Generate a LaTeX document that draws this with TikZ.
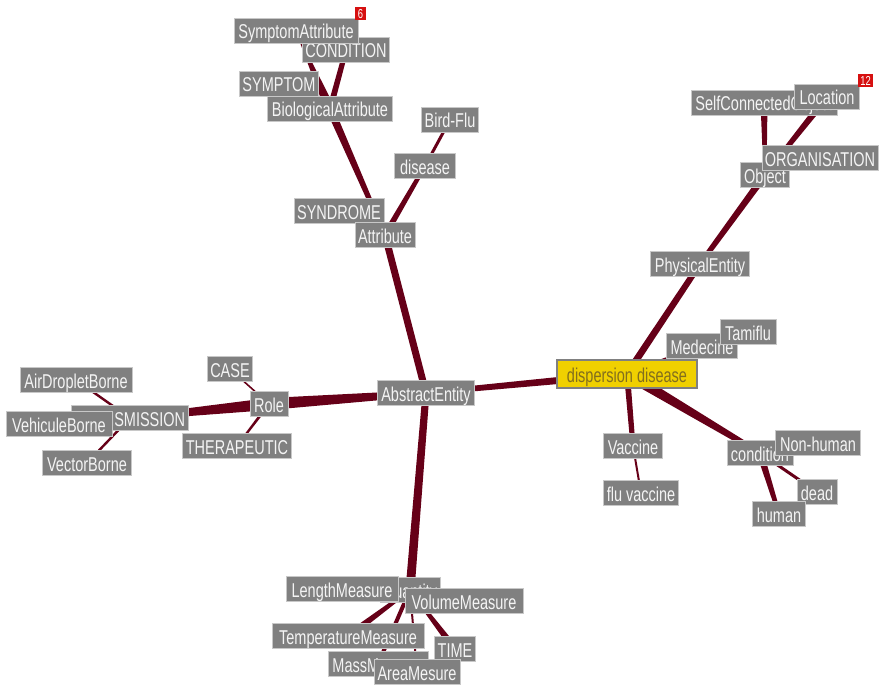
\documentclass[tikz,border=0pt]{standalone}
\usepackage{fontspec}
\usetikzlibrary{calc}
\newfontfamily\labelfont[FakeStretch=0.725]{Liberation Sans}

\definecolor{edgecol}{RGB}{102,0,24}
\definecolor{boxgray}{RGB}{128,128,128}
\definecolor{boxedge}{RGB}{200,200,200}
\definecolor{boxtext}{RGB}{244,244,244}
\definecolor{focusfill}{RGB}{240,208,0}
\definecolor{focustext}{RGB}{130,110,30}
\definecolor{badgered}{RGB}{214,16,16}

\pgfdeclarelayer{edges}
\pgfsetlayers{edges,main}

% tapered connector: half width #3 at node #1, half width #4 at node #2
\newcommand{\taper}[4]{%
  \fill[edgecol] ($(#1.center)!#3!90:(#2.center)$) -- ($(#1.center)!#3!-90:(#2.center)$)
    -- ($(#2.center)!#4!90:(#1.center)$) -- ($(#2.center)!#4!-90:(#1.center)$) -- cycle;}

\tikzset{
  term/.style={fill=boxgray, draw=boxedge, line width=0.9pt, text=boxtext,
    font=\labelfont\fontsize{20}{22}\selectfont, inner xsep=3pt, inner ysep=0pt,
    minimum height=25pt, text height=18pt, text depth=2pt},
  focus/.style={term, fill=focusfill, draw=boxgray, line width=1.6pt, text=focustext,
    minimum height=28pt},
  badge/.style={fill=badgered, text=white, inner sep=0pt,
    font=\labelfont\fontsize{13}{13}\selectfont, minimum height=13pt, minimum width=11pt}
}

\begin{document}
\begin{tikzpicture}[x=1pt, y=-1pt]
\useasboundingbox (0,0) rectangle (882,687);

% upper-left branch
\node[term, minimum width=87pt]  (cond)      at (346,50)  {CONDITION};
\node[term, minimum width=124pt] (symattr)   at (296,31)  {SymptomAttribute};
\node[term, minimum width=78pt]  (symptom)   at (279,84)  {SYMPTOM};
\node[term, minimum width=125pt] (bioattr)   at (330,109) {BiologicalAttribute};
\node[term, minimum width=57pt]  (birdflu)   at (450,120) {Bird-Flu};
\node[term, minimum width=61pt]  (disease)   at (425,166) {disease};
\node[term, minimum width=90pt]  (syndrome)  at (339,211) {SYNDROME};
\node[term, minimum width=60pt]  (attribute) at (385,235) {Attribute};
\node[badge, minimum width=11pt] (b6)        at (360.5,14) {6};

% upper-right branch
\node[term, minimum width=146pt] (selfconn)  at (764,103) {SelfConnectedObject};
\node[term, minimum width=65pt]  (location)  at (827,97)  {Location};
\node[badge, minimum width=15pt] (b12)       at (865.5,81) {12};
\node[term, minimum width=49pt]  (object)    at (765,175) {Object};
\node[term, minimum width=116pt] (organis)   at (820,158) {ORGANISATION};
\node[term, minimum width=99pt]  (physent)   at (700,264) {PhysicalEntity};
\node[term, minimum width=71pt]  (medecine)  at (702,346) {Medecine};
\node[term, minimum width=56pt]  (tamiflu)   at (748,332) {Tamiflu};

% centre
\node[focus, minimum width=140pt] (dispersion) at (627,374) {dispersion disease};
\node[term, minimum width=97pt]  (abstract)  at (426,393) {AbstractEntity};

% left branch
\node[term, minimum width=44pt]  (case)      at (230,369) {CASE};
\node[term, minimum width=38pt]  (role)      at (269,404) {Role};
\node[term, minimum width=112pt] (airdrop)   at (76,380)  {AirDropletBorne};
\node[term, minimum width=116pt] (transm)    at (130,418) {TRANSMISSION};
\node[term, minimum width=106pt] (vehicule)  at (59,424)  {VehiculeBorne};
\node[term, minimum width=89pt]  (vector)    at (87,463)  {VectorBorne};
\node[term, minimum width=109pt] (therapeut) at (237,446) {THERAPEUTIC};

% lower-right branch
\node[term, minimum width=59pt]  (vaccine)   at (633,446) {Vaccine};
\node[term, minimum width=74pt]  (fluvacc)   at (641,493) {flu vaccine};
\node[term, minimum width=66pt]  (condition) at (760,453) {condition};
\node[term, minimum width=85pt]  (nonhuman)  at (818,443) {Non-human};
\node[term, minimum width=40pt]  (dead)      at (817,492) {dead};
\node[term, minimum width=53pt]  (human)     at (779,514) {human};

% lower branch
\node[term, minimum width=58pt]  (quantity)  at (410,590) {Quantity};
\node[term, minimum width=112pt] (length)    at (342,589) {LengthMeasure};
\node[term, minimum width=118pt] (volume)    at (464,601) {VolumeMeasure};
\node[term, minimum width=152pt] (temper)    at (348,636) {TemperatureMeasure};
\node[term, minimum width=37pt]  (time)      at (455,649) {TIME};
\node[term, minimum width=100pt] (mass)      at (378,664) {MassMeasure};
\node[term, minimum width=86pt]  (area)      at (417,672) {AreaMesure};

\begin{pgfonlayer}{edges}
  \fill[white] (0,0) rectangle (882,687);
  \taper{abstract}{attribute}{3.5pt}{3.5pt}
  \taper{abstract}{dispersion}{2.5pt}{4pt}
  \taper{abstract}{role}{3pt}{6pt}
  \taper{abstract}{quantity}{3.5pt}{4.5pt}
  \taper{attribute}{bioattr}{2pt}{4pt}
  \taper{attribute}{disease}{3pt}{2pt}
  \taper{attribute}{syndrome}{2pt}{2pt}
  \taper{disease}{birdflu}{1.5pt}{1.5pt}
  \taper{bioattr}{cond}{3pt}{2.5pt}
  \taper{bioattr}{symattr}{5pt}{0.3pt}
  \taper{bioattr}{symptom}{2pt}{2pt}
  \taper{dispersion}{physent}{3.5pt}{3pt}
  \taper{physent}{object}{2.5pt}{3.5pt}
  \taper{object}{selfconn}{1.5pt}{3.5pt}
  \taper{object}{location}{2pt}{3.5pt}
  \taper{object}{organis}{2pt}{2pt}
  \taper{dispersion}{medecine}{2pt}{2pt}
  \taper{medecine}{tamiflu}{2pt}{2pt}
  \taper{dispersion}{vaccine}{3pt}{2.5pt}
  \taper{vaccine}{fluvacc}{1pt}{1pt}
  \taper{dispersion}{condition}{5.5pt}{2.5pt}
  \taper{condition}{human}{3.5pt}{2pt}
  \taper{condition}{dead}{1.5pt}{1.5pt}
  \taper{condition}{nonhuman}{2pt}{2pt}
  \taper{role}{case}{0.8pt}{0.8pt}
  \taper{role}{therapeut}{1.5pt}{1pt}
  \taper{role}{transm}{6pt}{2.5pt}
  \taper{transm}{airdrop}{1.2pt}{1.2pt}
  \taper{transm}{vehicule}{1.2pt}{1.2pt}
  \taper{transm}{vector}{1.2pt}{1.2pt}
  \taper{quantity}{length}{2pt}{2pt}
  \taper{quantity}{volume}{2pt}{2pt}
  \taper{quantity}{temper}{1.5pt}{3.5pt}
  \taper{quantity}{mass}{2pt}{2pt}
  \taper{quantity}{area}{1pt}{1pt}
  \taper{quantity}{time}{1.2pt}{3.5pt}
\end{pgfonlayer}
\end{tikzpicture}
\end{document}
